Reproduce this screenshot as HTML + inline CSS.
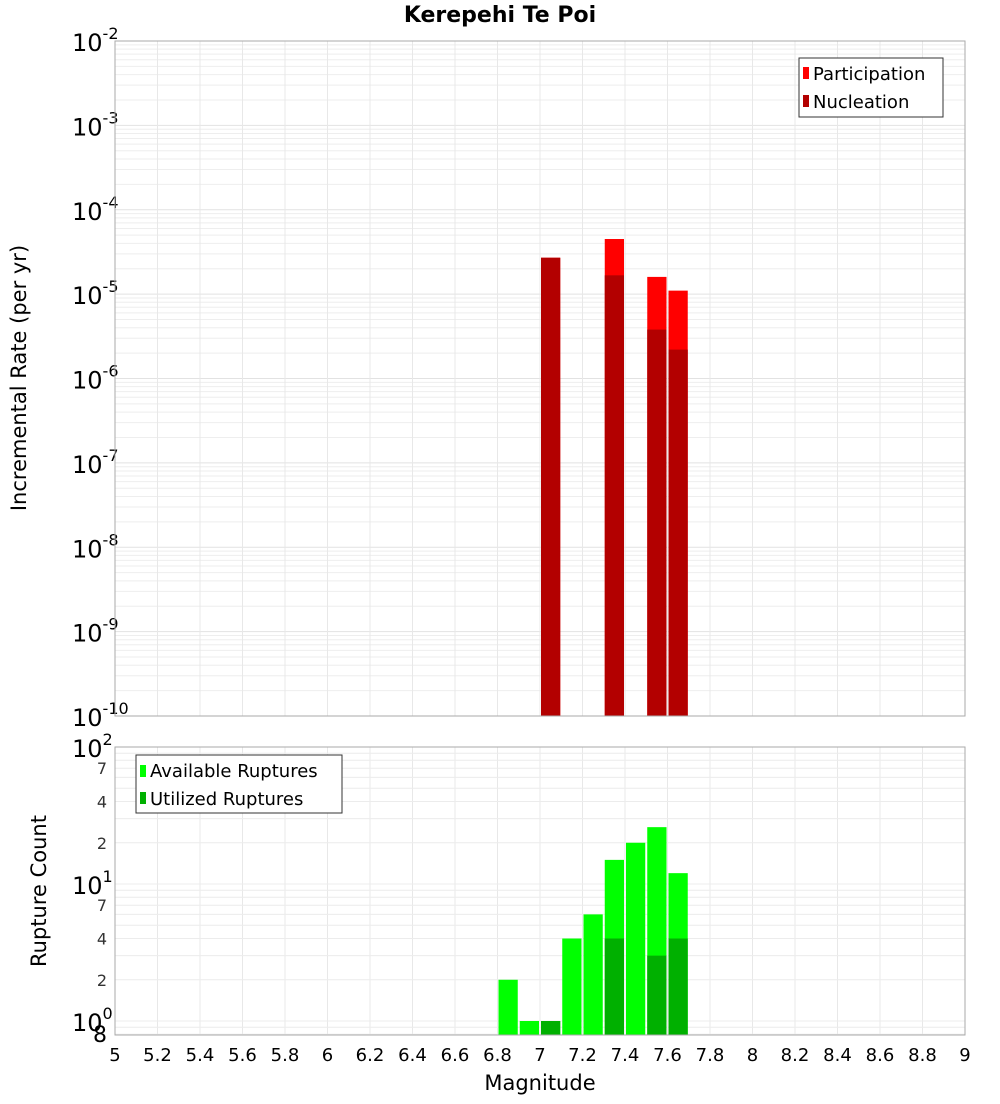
<!DOCTYPE html>
<html><head><meta charset="utf-8"><style>
body{margin:0;background:#fff;font-family:"DejaVu Sans","Liberation Sans",sans-serif}
svg text{font-family:"DejaVu Sans","Liberation Sans",sans-serif}
</style></head><body>
<svg id="chart" width="1000" height="1100" xmlns="http://www.w3.org/2000/svg">
<text x="500" y="22" text-anchor="middle" font-size="22" font-weight="bold">Kerepehi Te Poi</text>
<g id="topg"></g><g id="botg"></g>
<text x="540" y="1090" text-anchor="middle" font-size="21">Magnitude</text>
<text transform="translate(26,378) rotate(-90)" text-anchor="middle" font-size="21">Incremental Rate (per yr)</text>
<text transform="translate(46,891) rotate(-90)" text-anchor="middle" font-size="21">Rupture Count</text>
</svg>
<script>
const mags=[6.85,6.95,7.05,7.15,7.25,7.35,7.45,7.55,7.65];
const participation=[0,0,2.7e-5,0,0,4.5e-5,0,1.6e-5,1.1e-5];
const nucleation=[0,0,2.7e-5,0,0,1.67e-5,0,3.8e-6,2.2e-6];
const available=[2,1,1,4,6,15,20,26,12];
const utilized=[0,0,1,0,0,4,0,3,4];
const xTicks=[5,5.2,5.4,5.6,5.8,6,6.2,6.4,6.6,6.8,7,7.2,7.4,7.6,7.8,8,8.2,8.4,8.6,8.8,9];
const NS='http://www.w3.org/2000/svg';
const L=115,R=965;
const xs=m=>L+(m-5)/4*(R-L);
function mk(p,tag,at,txt){const e=document.createElementNS(NS,tag);for(const k in at)e.setAttribute(k,at[k]);if(txt!==undefined)e.textContent=txt;p.appendChild(e);return e;}
const topG=document.getElementById('topg'),botG=document.getElementById('botg');
const T0=41,T1=716;
const yt=v=>T1-(Math.log10(v)+10)/8*(T1-T0);
let bg=mk(topG,'rect',{x:L,y:T0,width:R-L,height:T1-T0,fill:'#fff',stroke:'#aaa'});


for(let d=-10;d<-2;d++)for(let k=1;k<10;k++){const y=yt(k*Math.pow(10,d));mk(topG,'line',{x1:L,x2:R,y1:y,y2:y,stroke:k==1?'#e2e2e2':'#eeeeee'});}
for(const t of xTicks){const x=xs(t);mk(topG,'line',{x1:x,x2:x,y1:T0,y2:T1,stroke:'#e8e8e8'});mk(botG,'line',{x1:x,x2:x,y1:747,y2:1035,stroke:'#e8e8e8'});}
for(let d=-10;d<=-2;d++){const y=yt(Math.pow(10,d));const t=mk(topG,'text',{x:72,y:y+10,'font-size':24});
 
 
 t.textContent='10';mk(t,'tspan',{dy:-12,'font-size':16},String(d));}
const bw=(R-L)/40;
mags.forEach((m,i)=>{const x=xs(m)-bw/2+1;
 if(participation[i]>0){const r=mk(topG,'rect',{x:x,y:yt(participation[i]),width:bw-2,height:T1-yt(participation[i]),fill:'#ff0000'});
  
  }
 if(nucleation[i]>0){const r=mk(topG,'rect',{x:x,y:yt(nucleation[i]),width:bw-2,height:T1-yt(nucleation[i]),fill:'#b30000'});
  
  }
});
mk(topG,'rect',{x:L,y:T0,width:R-L,height:T1-T0,fill:'none',stroke:'#aaa'});
let lg=mk(topG,'g',{});


mk(lg,'rect',{x:799,y:58,width:144,height:59,fill:'#fff',stroke:'#333'});
mk(lg,'rect',{x:803,y:67,width:6,height:12,fill:'#ff0000'});mk(lg,'text',{x:813,y:80,'font-size':18},'Participation');
mk(lg,'rect',{x:803,y:95,width:6,height:12,fill:'#b30000'});mk(lg,'text',{x:813,y:108,'font-size':18},'Nucleation');
const B0=747,B1=1035;
const yb=v=>1021-Math.log10(v)*137;
for(const v of [0.8,0.9,1,2,3,4,5,6,7,8,9,10,20,30,40,50,60,70,80,90]){const y=yb(v);if(y<=B1&&y>=B0)mk(botG,'line',{x1:L,x2:R,y1:y,y2:y,stroke:'#ececec'});}
for(const [v,s] of [[100,'2'],[10,'1'],[1,'0']]){const y=yb(v);const t=mk(botG,'text',{x:72,y:y+10,'font-size':24});
 
 
 t.textContent='10';mk(t,'tspan',{dy:-12,'font-size':16},s);}
for(const v of [70,40,20,7,4,2]){mk(botG,'text',{x:107,y:yb(v)+6,'font-size':16,'text-anchor':'end',fill:'#333'},String(v%10==0?v/10:v));}
mk(botG,'text',{x:107,y:1042,'font-size':22,'text-anchor':'end'},'8');
mags.forEach((m,i)=>{const x=xs(m)-bw/2+1;
 if(available[i]>0){const r=mk(botG,'rect',{x:x,y:yb(available[i]),width:bw-2,height:B1-yb(available[i]),fill:'#00ff00'});
  
  }
 if(utilized[i]>0){const r=mk(botG,'rect',{x:x,y:yb(utilized[i]),width:bw-2,height:B1-yb(utilized[i]),fill:'#00b000'});
  
  }
});
mk(botG,'rect',{x:L,y:B0,width:R-L,height:B1-B0,fill:'none',stroke:'#aaa'});
for(const t of xTicks){const e=mk(botG,'text',{x:xs(t),y:1061,'font-size':18,'text-anchor':'middle'},String(t));
 
 }
let lg2=mk(botG,'g',{});


mk(lg2,'rect',{x:136,y:755,width:206,height:58,fill:'#fff',stroke:'#333'});
mk(lg2,'rect',{x:140,y:765,width:6,height:12,fill:'#00ff00'});mk(lg2,'text',{x:150,y:777,'font-size':18},'Available Ruptures');
mk(lg2,'rect',{x:140,y:792,width:6,height:12,fill:'#00b000'});mk(lg2,'text',{x:150,y:805,'font-size':18},'Utilized Ruptures');
</script>
</body></html>
